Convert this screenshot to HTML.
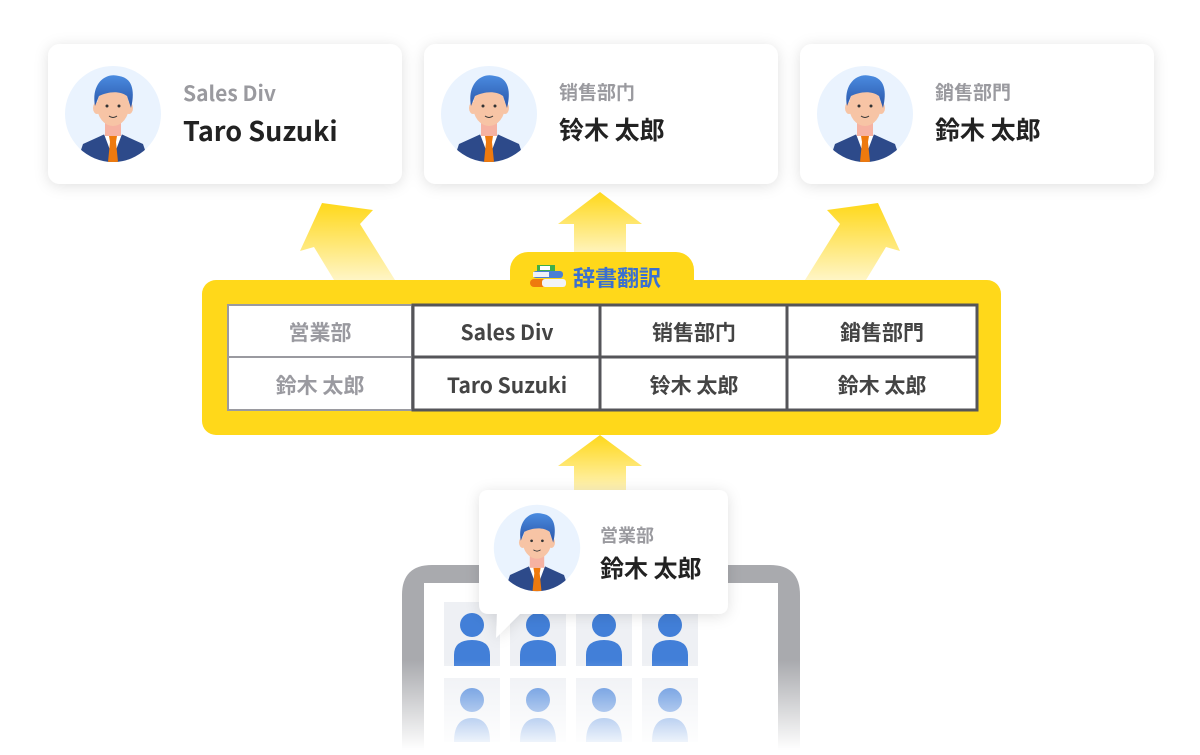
<!DOCTYPE html>
<html><head><meta charset="utf-8"><style>
body{margin:0;width:1200px;height:750px;background:#fff;overflow:hidden;font-family:"Noto Sans CJK JP","Liberation Sans",sans-serif;}
svg text{font-family:"Noto Sans CJK JP","Liberation Sans",sans-serif;}
</style></head><body>
<svg width="1200" height="750" viewBox="0 0 1200 750" xmlns="http://www.w3.org/2000/svg">
<defs>
<filter id="sh" x="-20%" y="-30%" width="140%" height="160%"><feDropShadow dx="0" dy="2" stdDeviation="7" flood-color="#000" flood-opacity="0.12"/></filter>
<linearGradient id="ay" x1="0" y1="0" x2="0" y2="1"><stop offset="0" stop-color="#FFD81A"/><stop offset="1" stop-color="#FFD81A" stop-opacity="0.25"/></linearGradient>
<linearGradient id="fade" x1="0" y1="0" x2="0" y2="1"><stop offset="0" stop-color="#fff" stop-opacity="0"/><stop offset="1" stop-color="#fff" stop-opacity="1"/></linearGradient>
<linearGradient id="hair" x1="0" y1="0" x2="0" y2="1"><stop offset="0" stop-color="#4a8be0"/><stop offset="1" stop-color="#2a55a8"/></linearGradient>
<clipPath id="cc"><circle cx="0" cy="0" r="48"/></clipPath>
<g id="av">
<circle cx="0" cy="0" r="48" fill="#EAF3FE"/>
<g clip-path="url(#cc)">
<path d="M-36 48 L-30 30 L-8 20 L8 20 L30 30 L36 48Z" fill="#2d4a8a"/>
<path d="M-9 20 L0 44 L9 20Z" fill="#fff"/>
<path d="M-4 22 L4 22 L3 28 L5 48 L-5 48 L-3 28Z" fill="#EE7A0E"/>
<rect x="-8" y="4" width="16" height="18" fill="#f6b2a2"/>
<ellipse cx="0" cy="-8" rx="16" ry="20" fill="#F7C4A5"/>
<ellipse cx="-16" cy="-6" rx="4" ry="6" fill="#F7C4A5"/><ellipse cx="16" cy="-6" rx="4" ry="6" fill="#F7C4A5"/>
<path d="M-18 -8 C-22 -30 -8 -42 6 -38 C20 -36 22 -22 18 -6 L14 -18 C6 -24 -6 -22 -14 -18Z" fill="url(#hair)"/>
<circle cx="-6" cy="-8" r="1.5" fill="#333"/><circle cx="6" cy="-8" r="1.5" fill="#333"/>
<path d="M-4 2 Q0 5 4 2" stroke="#333" stroke-width="1" fill="none"/>
</g></g>
</defs>

<g filter="url(#sh)">
<rect x="48" y="44" width="354" height="140" rx="12" fill="#fff"/>
<rect x="424" y="44" width="354" height="140" rx="12" fill="#fff"/>
<rect x="800" y="44" width="354" height="140" rx="12" fill="#fff"/>
</g>
<use href="#av" x="113" y="114"/>
<use href="#av" x="489" y="114"/>
<use href="#av" x="865" y="114"/>
<text x="183" y="101" font-size="21" font-weight="bold" fill="#9a9a9f">Sales Div</text>
<text x="183" y="141" font-size="27" font-weight="bold" fill="#222">Taro Suzuki</text>
<text x="559" y="99" font-size="19" font-weight="bold" fill="#9a9a9f">销售部门</text>
<text x="559" y="139" font-size="25" font-weight="bold" fill="#222">铃木 太郎</text>
<text x="935" y="99" font-size="19" font-weight="bold" fill="#9a9a9f">銷售部門</text>
<text x="935" y="139" font-size="25" font-weight="bold" fill="#222">鈴木 太郎</text>

<polygon points="314,247 300,251 322,203 373,210 360,224 395,280 334,280" fill="url(#ay)"/>
<polygon points="886,247 900,251 878,203 827,210 840,224 805,280 866,280" fill="url(#ay)"/>
<polygon points="600,192 642,224 626,224 626,256 574,256 574,224 558,224" fill="url(#ay)"/>
<polygon points="600,435 642,466 626,466 626,495 574,495 574,466 558,466" fill="url(#ay)"/>

<rect x="510" y="252" width="184" height="60" rx="18" fill="#FFD81A"/>
<rect x="202" y="280" width="799" height="155" rx="14" fill="#FFD81A"/>
<g>
<rect x="537" y="265" width="18" height="7" fill="#3fae4a"/><rect x="540" y="266" width="10" height="4" fill="#fff"/>
<rect x="533" y="271" width="30" height="7" rx="3" fill="#4a7fd6"/><rect x="533" y="272" width="16" height="5" fill="#eef2f8"/>
<rect x="530" y="279" width="36" height="8" rx="4" fill="#EE7A0E"/><rect x="542" y="279" width="24" height="8" rx="3" fill="#f2f4f8"/>
</g>
<text x="573" y="286" font-size="22" font-weight="bold" fill="#3a6fd0">辞書翻訳</text>

<rect x="227" y="304" width="751" height="107" fill="#fff"/>
<rect x="228" y="305" width="184" height="105" fill="none" stroke="#9a9aa0" stroke-width="2"/>
<line x1="228" y1="357" x2="412" y2="357" stroke="#9a9aa0" stroke-width="2"/>
<rect x="413" y="305" width="564" height="105" fill="none" stroke="#555559" stroke-width="3"/>
<line x1="413" y1="357" x2="977" y2="357" stroke="#555559" stroke-width="3"/>
<line x1="600" y1="305" x2="600" y2="410" stroke="#555559" stroke-width="3"/>
<line x1="787" y1="305" x2="787" y2="410" stroke="#555559" stroke-width="3"/>
<g font-size="21" font-weight="bold" text-anchor="middle">
<text x="320" y="340" fill="#9a9aa0">営業部</text>
<text x="320" y="393" fill="#9a9aa0">鈴木 太郎</text>
<text x="507" y="340" fill="#444">Sales Div</text>
<text x="507" y="393" fill="#444">Taro Suzuki</text>
<text x="694" y="340" fill="#444">销售部门</text>
<text x="694" y="393" fill="#444">铃木 太郎</text>
<text x="882" y="340" fill="#444">銷售部門</text>
<text x="882" y="393" fill="#444">鈴木 太郎</text>
</g>

<path d="M402 750 L402 595 Q402 565 432 565 L770 565 Q800 565 800 595 L800 750 Z" fill="#a9aaae"/>
<rect x="424" y="583" width="354" height="170" fill="#fff"/>
<g fill="#eef0f4">
<rect x="444" y="602" width="56" height="64"/><rect x="510" y="602" width="56" height="64"/><rect x="576" y="602" width="56" height="64"/><rect x="642" y="602" width="56" height="64"/>
<rect x="444" y="678" width="56" height="64"/><rect x="510" y="678" width="56" height="64"/><rect x="576" y="678" width="56" height="64"/><rect x="642" y="678" width="56" height="64"/>
</g>
<g fill="#427fd8">
<circle cx="472" cy="625" r="12"/><path d="M454 666 L454 655 Q454 640 472 640 Q490 640 490 655 L490 666Z"/>
<circle cx="538" cy="625" r="12"/><path d="M520 666 L520 655 Q520 640 538 640 Q556 640 556 655 L556 666Z"/>
<circle cx="604" cy="625" r="12"/><path d="M586 666 L586 655 Q586 640 604 640 Q622 640 622 655 L622 666Z"/>
<circle cx="670" cy="625" r="12"/><path d="M652 666 L652 655 Q652 640 670 640 Q688 640 688 655 L688 666Z"/>
<circle cx="472" cy="700" r="12"/><circle cx="538" cy="700" r="12"/><circle cx="604" cy="700" r="12"/><circle cx="670" cy="700" r="12"/>
<path d="M454 742 Q454 718 472 718 Q490 718 490 742Z"/><path d="M520 742 Q520 718 538 718 Q556 718 556 742Z"/><path d="M586 742 Q586 718 604 718 Q622 718 622 742Z"/><path d="M652 742 Q652 718 670 718 Q688 718 688 742Z"/>
</g>
<rect x="395" y="660" width="410" height="90" fill="url(#fade)"/>

<g filter="url(#sh)">
<path d="M489 490 L718 490 Q728 490 728 500 L728 604 Q728 614 718 614 L520 614 L496 638 L497 614 L489 614 Q479 614 479 604 L479 500 Q479 490 489 490Z" fill="#fff"/>
</g>
<g transform="translate(537,548) scale(0.9)"><use href="#av"/></g>
<text x="600" y="542" font-size="18" font-weight="bold" fill="#9a9a9f">営業部</text>
<text x="600" y="577" font-size="24" font-weight="bold" fill="#222">鈴木 太郎</text>
</svg>
</body></html>
